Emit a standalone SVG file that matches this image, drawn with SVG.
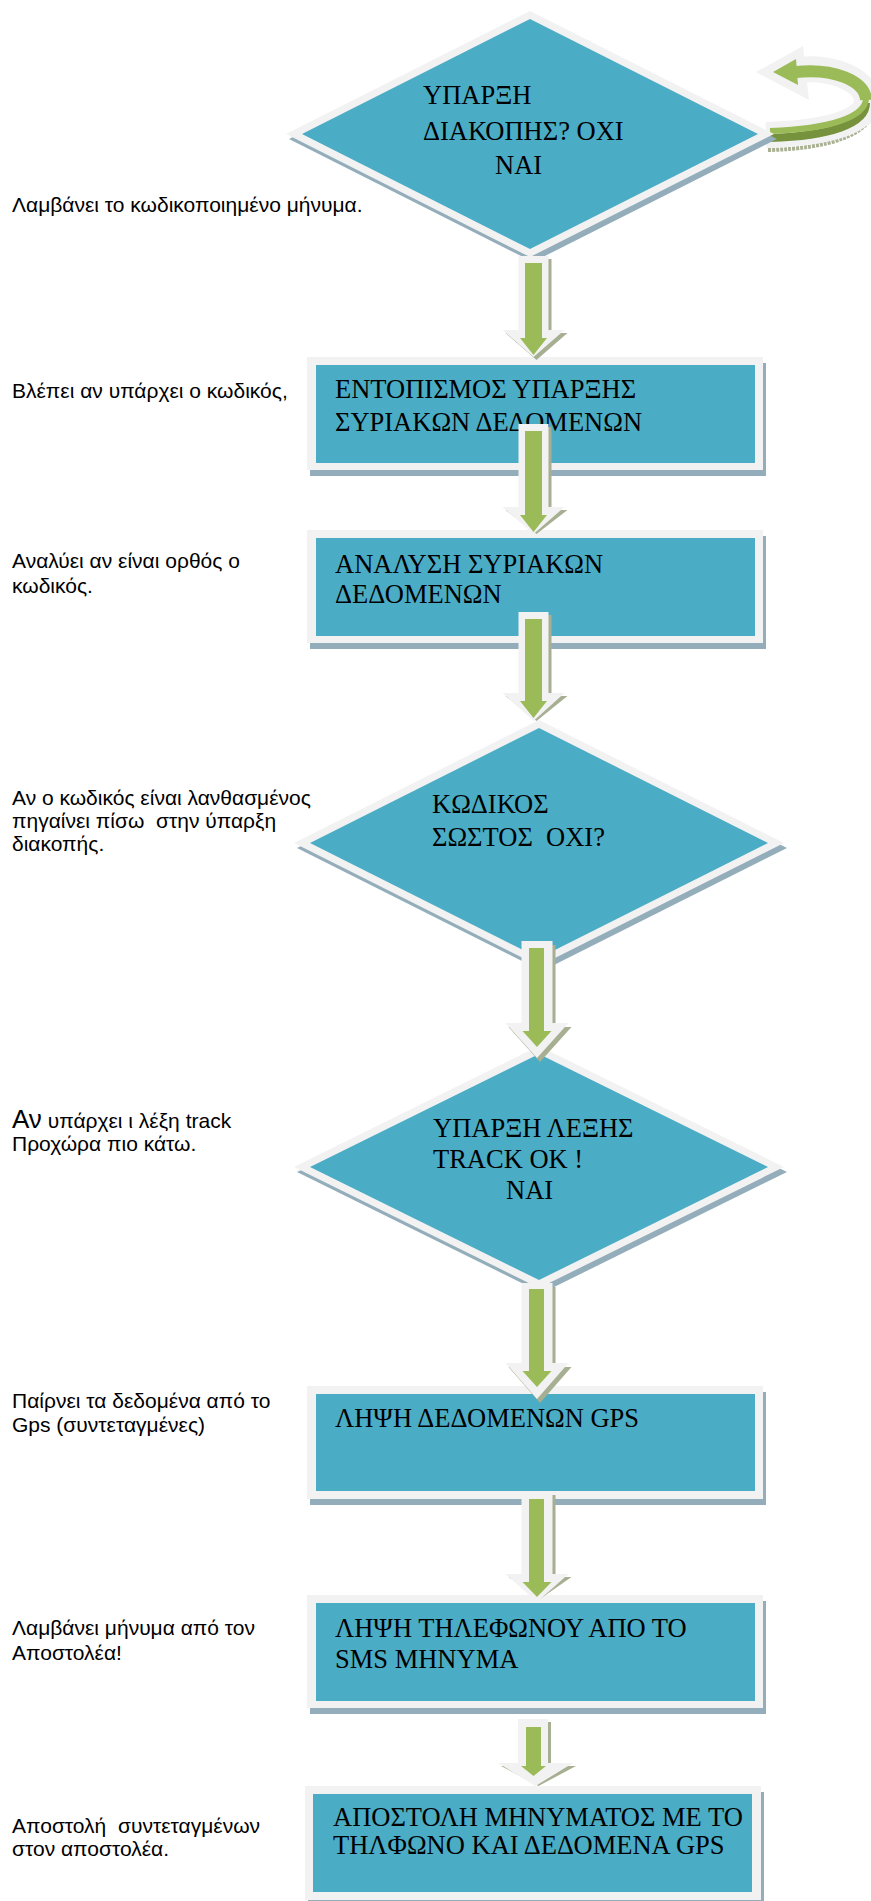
<svg xmlns="http://www.w3.org/2000/svg" width="871" height="1901" viewBox="0 0 871 1901">
<style>
.bw{fill:#F2F2F2}
.bb{fill:#4BACC6}
.bs{fill:#93AEBA}
.aw{fill:#F2F2F2}
.ag{fill:#9BBB59}
.as{fill:#A7AF92}
.nt{font-family:"Liberation Serif","Times New Roman",serif;font-size:26.5px;fill:#000;white-space:pre}
.lt{font-family:"Liberation Sans",Arial,sans-serif;font-size:21px;fill:#000;white-space:pre}
</style>
<rect width="871" height="1901" fill="#FFFFFF"/>

<g id="labels">
<text class="lt" x="12" y="212">Λαμβάνει το κωδικοποιημένο μήνυμα.</text>
<text class="lt" x="12" y="398">Βλέπει αν υπάρχει ο κωδικός,</text>
<text class="lt" x="12" y="568">Αναλύει αν είναι ορθός ο</text>
<text class="lt" x="12" y="593">κωδικός.</text>
<text class="lt" x="12" y="805">Αν ο κωδικός είναι λανθασμένος</text>
<text class="lt" x="12" y="828">πηγαίνει πίσω  στην ύπαρξη</text>
<text class="lt" x="12" y="851">διακοπής.</text>
<text class="lt" x="12" y="1128"><tspan font-size="26">Αν</tspan> υπάρχει ι λέξη track</text>
<text class="lt" x="12" y="1151">Προχώρα πιο κάτω.</text>
<text class="lt" x="12" y="1408">Παίρνει τα δεδομένα από το</text>
<text class="lt" x="12" y="1432">Gps (συντεταγμένες)</text>
<text class="lt" x="12" y="1635">Λαμβάνει μήνυμα από τον</text>
<text class="lt" x="12" y="1660">Αποστολέα!</text>
<text class="lt" x="12" y="1833">Αποστολή  συντεταγμένων</text>
<text class="lt" x="12" y="1856">στον αποστολέα.</text>
</g>

<g id="loop">
<path d="M 768 150 C 830 149, 872 133, 872 110" fill="none" stroke="#A9B192" stroke-width="4" stroke-dasharray="3 1"/>
<path d="M 766 135 C 830 133, 868 121, 867 100 C 866 80, 832 66, 798 70" stroke="#F2F2F2" stroke-width="26" fill="none"/>
<polygon points="756,72 803,46 809,100" fill="#F2F2F2"/>
<path d="M 866 100 C 865 80, 832 68, 796 72" stroke="#9BBB59" stroke-width="12" fill="none"/>
<path d="M 770 138 C 830 136, 866 124, 866 103" stroke="#76923C" stroke-width="8" fill="none"/>
<path d="M 770 131 C 830 129, 866 117, 866 98" stroke="#9BBB59" stroke-width="6" fill="none"/>
<polygon points="773,72 796,59 798,85" fill="#9BBB59"/>
</g>

<g id="d1">
<polygon class="bs" points="533,16 777,139 533,262 289,139"/>
<polygon class="bw" points="530,11 774,134 530,257 286,134"/>
<polygon class="bb" points="530,19 758,134 530,249 302,134"/>
<text class="nt" x="423" y="104" font-size="28.5">ΥΠΑΡΞΗ</text>
<text class="nt" x="423" y="140" font-size="28.5">ΔΙΑΚΟΠΗΣ? ΟΧΙ</text>
<text class="nt" x="495" y="174" font-size="28.5">ΝΑΙ</text>
</g>

<g id="b1">
<rect class="bs" x="310" y="363" width="456" height="113"/>
<rect class="bw" x="307" y="357" width="456" height="113"/>
<rect class="bb" x="316" y="365" width="439" height="98"/>
<text class="nt" x="335" y="398">ΕΝΤΟΠΙΣΜΟΣ ΥΠΑΡΞΗΣ</text>
<text class="nt" x="335" y="431">ΣΥΡΙΑΚΩΝ ΔΕΔΟΜΕΝΩΝ</text>
</g>

<g id="b2">
<rect class="bs" x="310" y="536" width="456" height="113"/>
<rect class="bw" x="307" y="530" width="456" height="113"/>
<rect class="bb" x="316" y="538" width="439" height="98"/>
<text class="nt" x="335" y="573">ΑΝΑΛΥΣΗ ΣΥΡΙΑΚΩΝ</text>
<text class="nt" x="335" y="603">ΔΕΔΟΜΕΝΩΝ</text>
</g>

<g id="d2">
<polygon class="bs" points="542,725 787,848 542,971 297,848"/>
<polygon class="bw" points="539,720 784,843 539,966 294,843"/>
<polygon class="bb" points="539,728 768,843 539,958 310,843"/>
<text class="nt" x="432" y="813">ΚΩΔΙΚΟΣ</text>
<text class="nt" x="432" y="846">ΣΩΣΤΟΣ  ΟΧΙ?</text>
</g>

<g id="d3">
<polygon class="bs" points="542,1051 787,1172 542,1293 297,1172"/>
<polygon class="bw" points="539,1046 784,1167 539,1288 294,1167"/>
<polygon class="bb" points="539,1054 768,1167 539,1280 310,1167"/>
<text class="nt" x="433" y="1137">ΥΠΑΡΞΗ ΛΕΞΗΣ</text>
<text class="nt" x="433" y="1168">TRACK OK !</text>
<text class="nt" x="506" y="1199">ΝΑΙ</text>
</g>

<g id="b3">
<rect class="bs" x="310" y="1392" width="456" height="113"/>
<rect class="bw" x="307" y="1386" width="456" height="113"/>
<rect class="bb" x="316" y="1394" width="439" height="97"/>
<text class="nt" x="335" y="1427">ΛΗΨΗ ΔΕΔΟΜΕΝΩΝ GPS</text>
</g>

<g id="b4">
<rect class="bs" x="310" y="1601" width="456" height="113"/>
<rect class="bw" x="307" y="1595" width="456" height="113"/>
<rect class="bb" x="316" y="1603" width="439" height="98"/>
<text class="nt" x="335" y="1637">ΛΗΨΗ ΤΗΛΕΦΩΝΟΥ ΑΠΟ ΤΟ</text>
<text class="nt" x="335" y="1668">SMS ΜΗΝΥΜΑ</text>
</g>

<g id="b5">
<rect class="bs" x="308" y="1792" width="456" height="114"/>
<rect class="bw" x="305" y="1786" width="456" height="114"/>
<rect class="bb" x="313" y="1794" width="439" height="98"/>
<text class="nt" x="333" y="1826" font-size="24.3">ΑΠΟΣΤΟΛΗ ΜΗΝΥΜΑΤΟΣ ΜΕ ΤΟ</text>
<text class="nt" x="333" y="1854" font-size="24.3">ΤΗΛΦΩΝΟ ΚΑΙ ΔΕΔΟΜΕΝΑ GPS</text>
</g>

<g id="connectors">
<g id="a1">
<polygon class="as" transform="translate(3,3)" points="518.5,256 548.5,256 548.5,330 564.5,330 533.5,357 502.5,330 518.5,330"/>
<polygon class="aw" points="518.5,256 548.5,256 548.5,330 564.5,330 533.5,357 502.5,330 518.5,330"/>
<polygon class="ag" points="525,263 542,263 542,338 547,338 533.5,355 520,338 525,338"/>
</g>
<g id="a2">
<polygon class="as" transform="translate(3,3)" points="518.5,424 548.5,424 548.5,507 564.5,507 533.5,531 502.5,507 518.5,507"/>
<polygon class="aw" points="518.5,424 548.5,424 548.5,507 564.5,507 533.5,534 502.5,507 518.5,507"/>
<polygon class="ag" points="525,431 542,431 542,515 547,515 533.5,532 520,515 525,515"/>
</g>
<g id="a3">
<polygon class="as" transform="translate(3,3)" points="518.5,612 548.5,612 548.5,693 564.5,693 533.5,718 502.5,693 518.5,693"/>
<polygon class="aw" points="518.5,612 548.5,612 548.5,693 564.5,693 533.5,721 502.5,693 518.5,693"/>
<polygon class="ag" points="525,619 542,619 542,701 547,701 533.5,718 520,701 525,701"/>
</g>
<g id="a4">
<polygon class="as" transform="translate(3,4)" points="521.5,941 552.5,941 552.5,1023 568.5,1023 537,1058 505.5,1023 521.5,1023"/>
<polygon class="aw" points="521.5,941 552.5,941 552.5,1023 568.5,1023 537,1058 505.5,1023 521.5,1023"/>
<polygon class="ag" points="529,948 544,948 544,1031 551.5,1031 537,1047 522.5,1031 529,1031"/>
</g>
<g id="a5">
<polygon class="as" transform="translate(3,4)" points="521.5,1283 552.5,1283 552.5,1363 568.5,1363 537,1399 505.5,1363 521.5,1363"/>
<polygon class="aw" points="521.5,1283 552.5,1283 552.5,1363 568.5,1363 537,1399 505.5,1363 521.5,1363"/>
<polygon class="ag" points="529,1289 544,1289 544,1371 551.5,1371 537,1387 522.5,1371 529,1371"/>
</g>
<g id="a6">
<polygon class="as" transform="translate(3,3)" points="521.5,1492 552.5,1492 552.5,1574 568.5,1574 537,1596 505.5,1574 521.5,1574"/>
<polygon class="aw" points="521.5,1492 552.5,1492 552.5,1574 568.5,1574 537,1602 505.5,1574 521.5,1574"/>
<polygon class="ag" points="529,1499 544,1499 544,1582 551.5,1582 537,1597 522.5,1582 529,1582"/>
</g>
<g id="a7">
<polygon class="as" transform="translate(3,3)" points="518,1719 548,1719 548,1763 573,1763 535.5,1783 498,1763 518,1763"/>
<polygon class="aw" points="518,1719 548,1719 548,1763 573,1763 535.5,1786 498,1763 518,1763"/>
<polygon class="ag" points="526,1727 541,1727 541,1766 546,1766 533.5,1776 521,1766 526,1766"/>
</g>
</g>
</svg>
